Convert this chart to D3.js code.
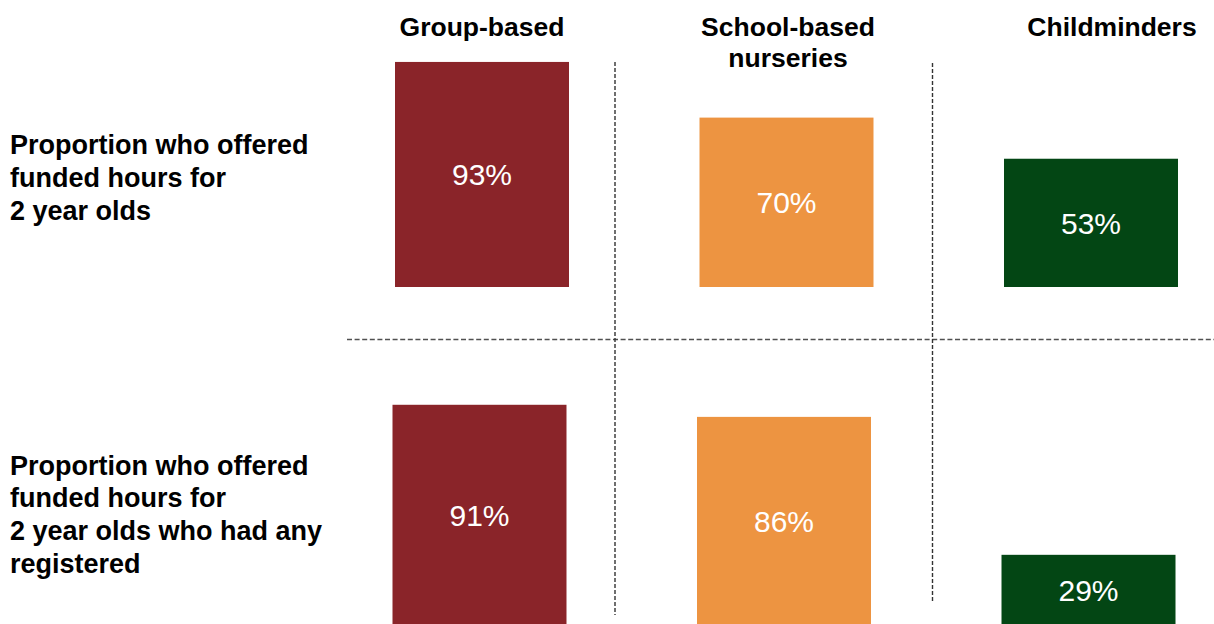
<!DOCTYPE html>
<html>
<head>
<meta charset="utf-8">
<script src="https://cdn.jsdelivr.net/npm/d3@7"></script>
<style>
  html, body { margin: 0; padding: 0; background: #fff; }
  svg { display: block; font-family: "Liberation Sans", Arial, sans-serif; }
</style>
</head>
<body>
<svg id="chart" width="1214" height="624"></svg>
<script>
// ---- data ----
const categories = ["Group-based", "School-based nurseries", "Childminders"];
const headerLines = [["Group-based"], ["School-based", "nurseries"], ["Childminders"]];
const rowLabels = [
  ["Proportion who offered", "funded hours for", "2 year olds"],
  ["Proportion who offered", "funded hours for", "2 year olds who had any", "registered"]
];
const offeredFunded = [93, 70, 53];
const offeredWithRegistered = [91, 86, 29];
const colors = ["#8A2429", "#ED9441", "#034614"];

// ---- layout ----
const W = 1214, H = 624;
const svg = d3.select("#chart");

const x = d3.scaleBand()
  .domain(categories)
  .range([395, 1178])
  .paddingInner(0.4286)
  .paddingOuter(0);

const h = d3.scaleLinear().domain([0, 100]).range([0, 242]);

const rows = [
  { values: offeredFunded, base: 287, dx: 0, labelY: 154, lineH: 33 },
  { values: offeredWithRegistered, base: 625, dx: -2.5, labelY: 474.5, lineH: 32.8 }
];

// dashed separators
const grid = svg.append("g").attr("fill", "none");
grid.append("line")
  .attr("x1", 347).attr("x2", W).attr("y1", 339.5).attr("y2", 339.5)
  .attr("stroke", "#505050").attr("stroke-width", 1.5).attr("stroke-dasharray", "5,2.6");
grid.append("line")
  .attr("x1", 615).attr("x2", 615).attr("y1", 62).attr("y2", 615)
  .attr("stroke", "#333").attr("stroke-width", 1.4).attr("stroke-dasharray", "4,2");
grid.append("line")
  .attr("x1", 932.5).attr("x2", 932.5).attr("y1", 63).attr("y2", 601)
  .attr("stroke", "#333").attr("stroke-width", 1.4).attr("stroke-dasharray", "4,2");

// column headers
const headerDx = [0, 1.5, 21];
const headers = svg.append("g")
  .attr("font-size", 26.5).attr("font-weight", "bold").attr("fill", "#000")
  .attr("text-anchor", "middle");
headerLines.forEach((lines, i) => {
  const cx = x(categories[i]) + x.bandwidth() / 2 + headerDx[i];
  const t = headers.append("text").attr("x", cx).attr("y", 36);
  lines.forEach((ln, j) => {
    t.append("tspan").attr("x", cx).attr("dy", j === 0 ? 0 : 31).text(ln);
  });
});

// rows
rows.forEach((row, r) => {
  const g = svg.append("g").attr("transform", `translate(${row.dx},0)`);
  const data = categories.map((c, i) => ({ c, v: row.values[i], color: colors[i] }));
  g.selectAll("rect").data(data).join("rect")
    .attr("x", d => x(d.c))
    .attr("width", x.bandwidth())
    .attr("y", d => row.base - h(d.v))
    .attr("height", d => h(d.v))
    .attr("fill", d => d.color);
  g.selectAll("text").data(data).join("text")
    .attr("x", d => x(d.c) + x.bandwidth() / 2)
    .attr("y", d => row.base - h(d.v) / 2 + 11)
    .attr("text-anchor", "middle")
    .attr("font-size", 30)
    .attr("fill", "#fff")
    .text(d => d.v + "%");

  const lbl = svg.append("text")
    .attr("x", 10).attr("y", row.labelY)
    .attr("font-size", 27).attr("font-weight", "bold").attr("fill", "#000");
  rowLabels[r].forEach((ln, j) => {
    lbl.append("tspan").attr("x", 10).attr("dy", j === 0 ? 0 : row.lineH).text(ln);
  });
});
</script>
</body>
</html>
